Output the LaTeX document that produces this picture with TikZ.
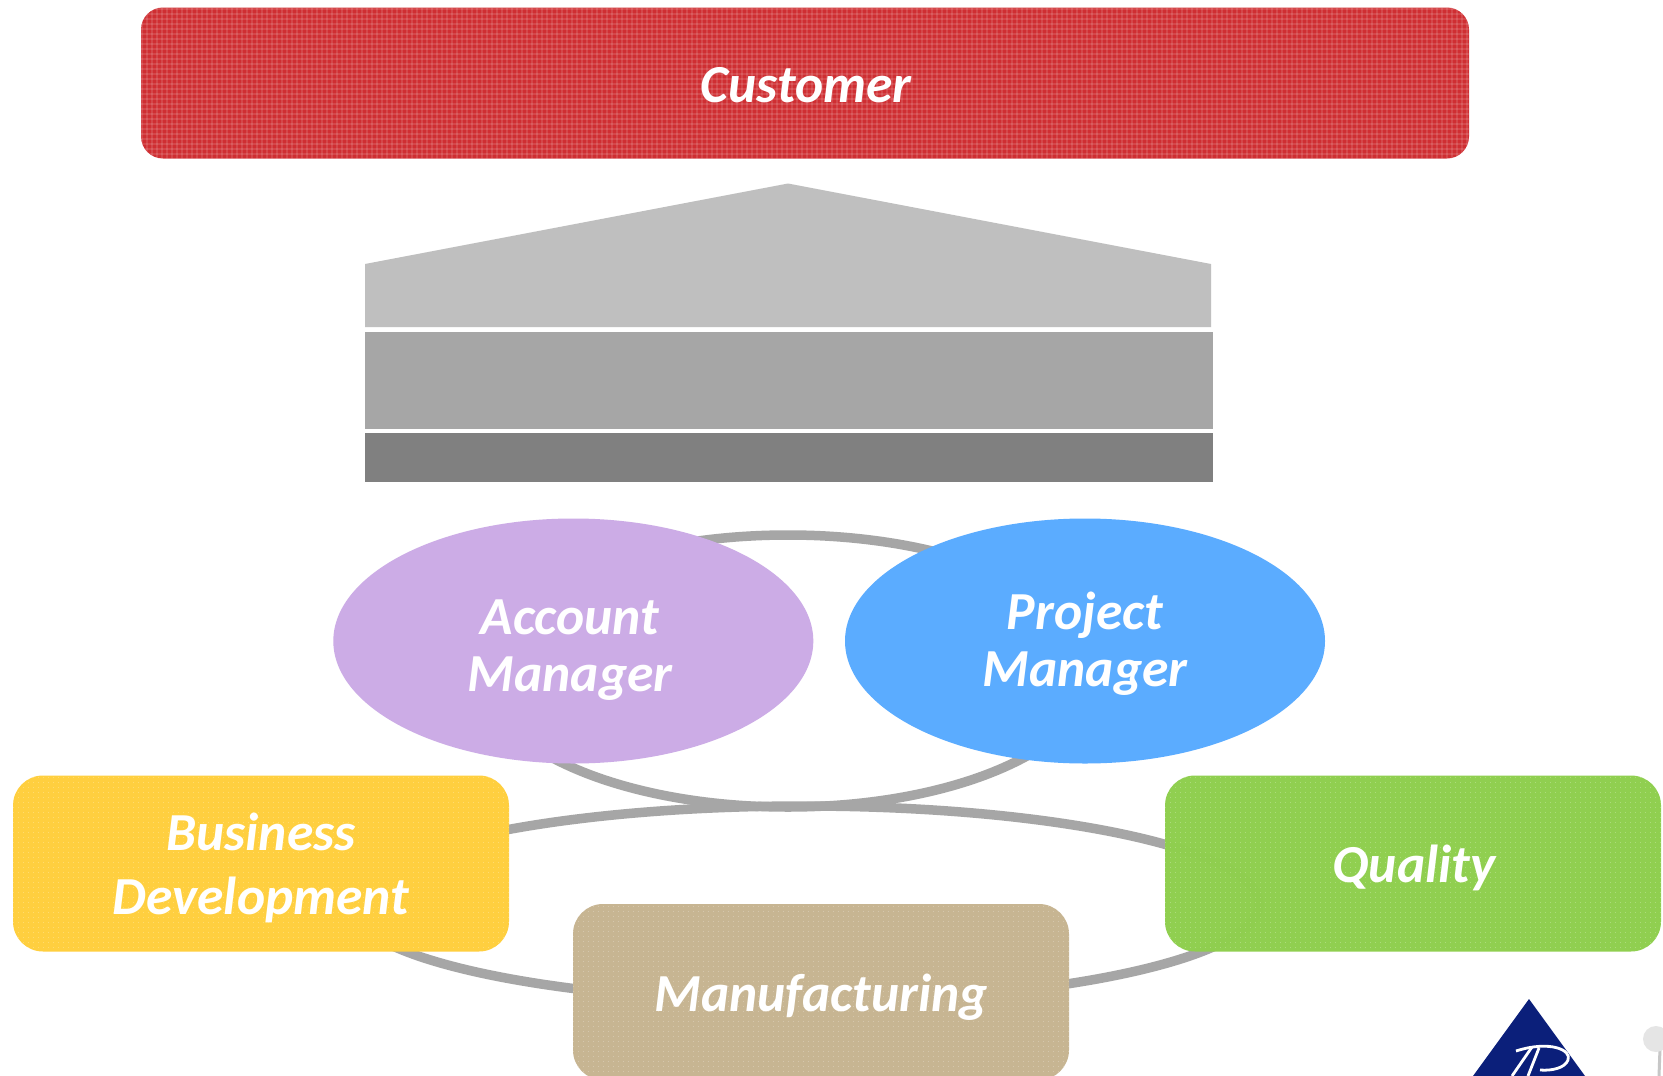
\documentclass[tikz,border=0pt]{standalone}
\usepackage{fontspec}
\setmainfont{Carlito}
\usetikzlibrary{shapes.geometric}
\definecolor{cred}{HTML}{CF2E32}
\definecolor{cyellow}{HTML}{FFCF3F}
\definecolor{cgreen}{HTML}{8FCF4E}
\definecolor{ctan}{HTML}{C7B592}
\definecolor{cpurple}{HTML}{CCACE6}
\definecolor{cblue}{HTML}{5BACFF}
\definecolor{cring}{HTML}{A6A6A6}
\definecolor{cnavy}{HTML}{0B1F7A}
\tikzset{
  dotted fill/.style={path picture={
    \foreach \i in {2,7,...,182}{
      \draw[white,opacity=.25,line width=1pt,dash pattern=on 1pt off 4pt]
        ([yshift=-\i pt]path picture bounding box.north west) -- ([yshift=-\i pt]path picture bounding box.north east);}}},
  woven fill/.style={path picture={
    \foreach \i in {1,6,...,156}{
      \draw[white,opacity=.12,line width=2pt]
        ([yshift=-\i pt]path picture bounding box.north west) -- ([yshift=-\i pt]path picture bounding box.north east);}
    \foreach \i in {1,6,...,1331}{
      \draw[white,opacity=.12,line width=2pt]
        ([xshift=\i pt]path picture bounding box.north west) -- ([xshift=\i pt]path picture bounding box.south west);}}},
  roundbox/.style={rectangle,rounded corners=30pt,inner sep=0pt,minimum width=496pt,minimum height=176pt},
  oval/.style={ellipse,inner sep=0pt,minimum width=480pt,minimum height=245pt},
  ring/.style={ellipse,draw=cring,line width=9.5pt,inner sep=0pt},
  label/.style={text=white,font=\fontsize{53.5}{61}\selectfont\bfseries\itshape,align=center,inner sep=0pt},
  flat/.style={rectangle,inner sep=0pt,minimum width=848pt},
}
\begin{document}
\begin{tikzpicture}[x=1pt,y=-1pt]
\clip (0,0) rectangle (1663,1076);
\fill[white] (0,0) rectangle (1663,1076);
% rings
\node[ring,minimum width=612pt,minimum height=272pt] (upperring) at (788,671) {};
\node[ring,minimum width=910pt,minimum height=196pt] (lowerring) at (804,904) {};
% customer
\node[roundbox,fill=cred,woven fill,rounded corners=22pt,minimum width=1328pt,minimum height=151pt] (customerbox) at (805,83) {};
% stack
\fill[fill=black!25] (788,183.5) -- (1211,264) -- (1211,327) -- (365,327) -- (365,264) -- cycle;
\node[flat,fill=cring,minimum height=96.5pt] (midbar) at (789,380.5) {};
\node[flat,fill=black!50,minimum height=48.5pt] (lowbar) at (789,457.5) {};
% ellipses
\node[oval,fill=cpurple] (account) at (573.3,641) {};
\node[oval,fill=cblue] (project) at (1085,641) {};
% boxes
\node[roundbox,fill=cyellow,dotted fill] (business) at (261,863.5) {};
\node[roundbox,fill=cgreen,fill opacity=.985,dotted fill] (quality) at (1413,863.5) {};
\node[roundbox,fill=ctan,dotted fill] (manufacturing) at (821,992) {};
% labels
\node[label] (customerlabel) at (806,85) {Customer};
\node[label,font=\fontsize{53.5}{57}\selectfont\bfseries\itshape] (accountlabel) at (570,650.5) {Account\\Manager};
\node[label,font=\fontsize{53.5}{57}\selectfont\bfseries\itshape] (projectlabel) at (1085,644) {Project\\Manager};
\node[label,font=\fontsize{53.5}{64}\selectfont\bfseries\itshape] (businesslabel) at (261,868) {Business\\Development};
\node[label] (qualitylabel) at (1414,868) {Quality};
\node[label] (manufacturinglabel) at (821,997) {Manufacturing};
% logo
\fill[cnavy] (1529,999) -- (1473,1076) -- (1585,1076) -- cycle;
\draw[white,line width=2.8pt] (1532,1047) -- (1512,1076);
\draw[white,line width=2.8pt] (1539,1048) -- (1528,1076);
\draw[white,line width=2.8pt] (1516,1051) .. controls (1550,1040) and (1572,1050) .. (1568,1060) .. controls (1565,1068) and (1552,1071) .. (1540,1070);
% ball
\draw[black!22,line width=3pt] (1660,1048) -- (1659,1076);
\fill[black!10] (1656,1039) circle (13);
\end{tikzpicture}
\end{document}
